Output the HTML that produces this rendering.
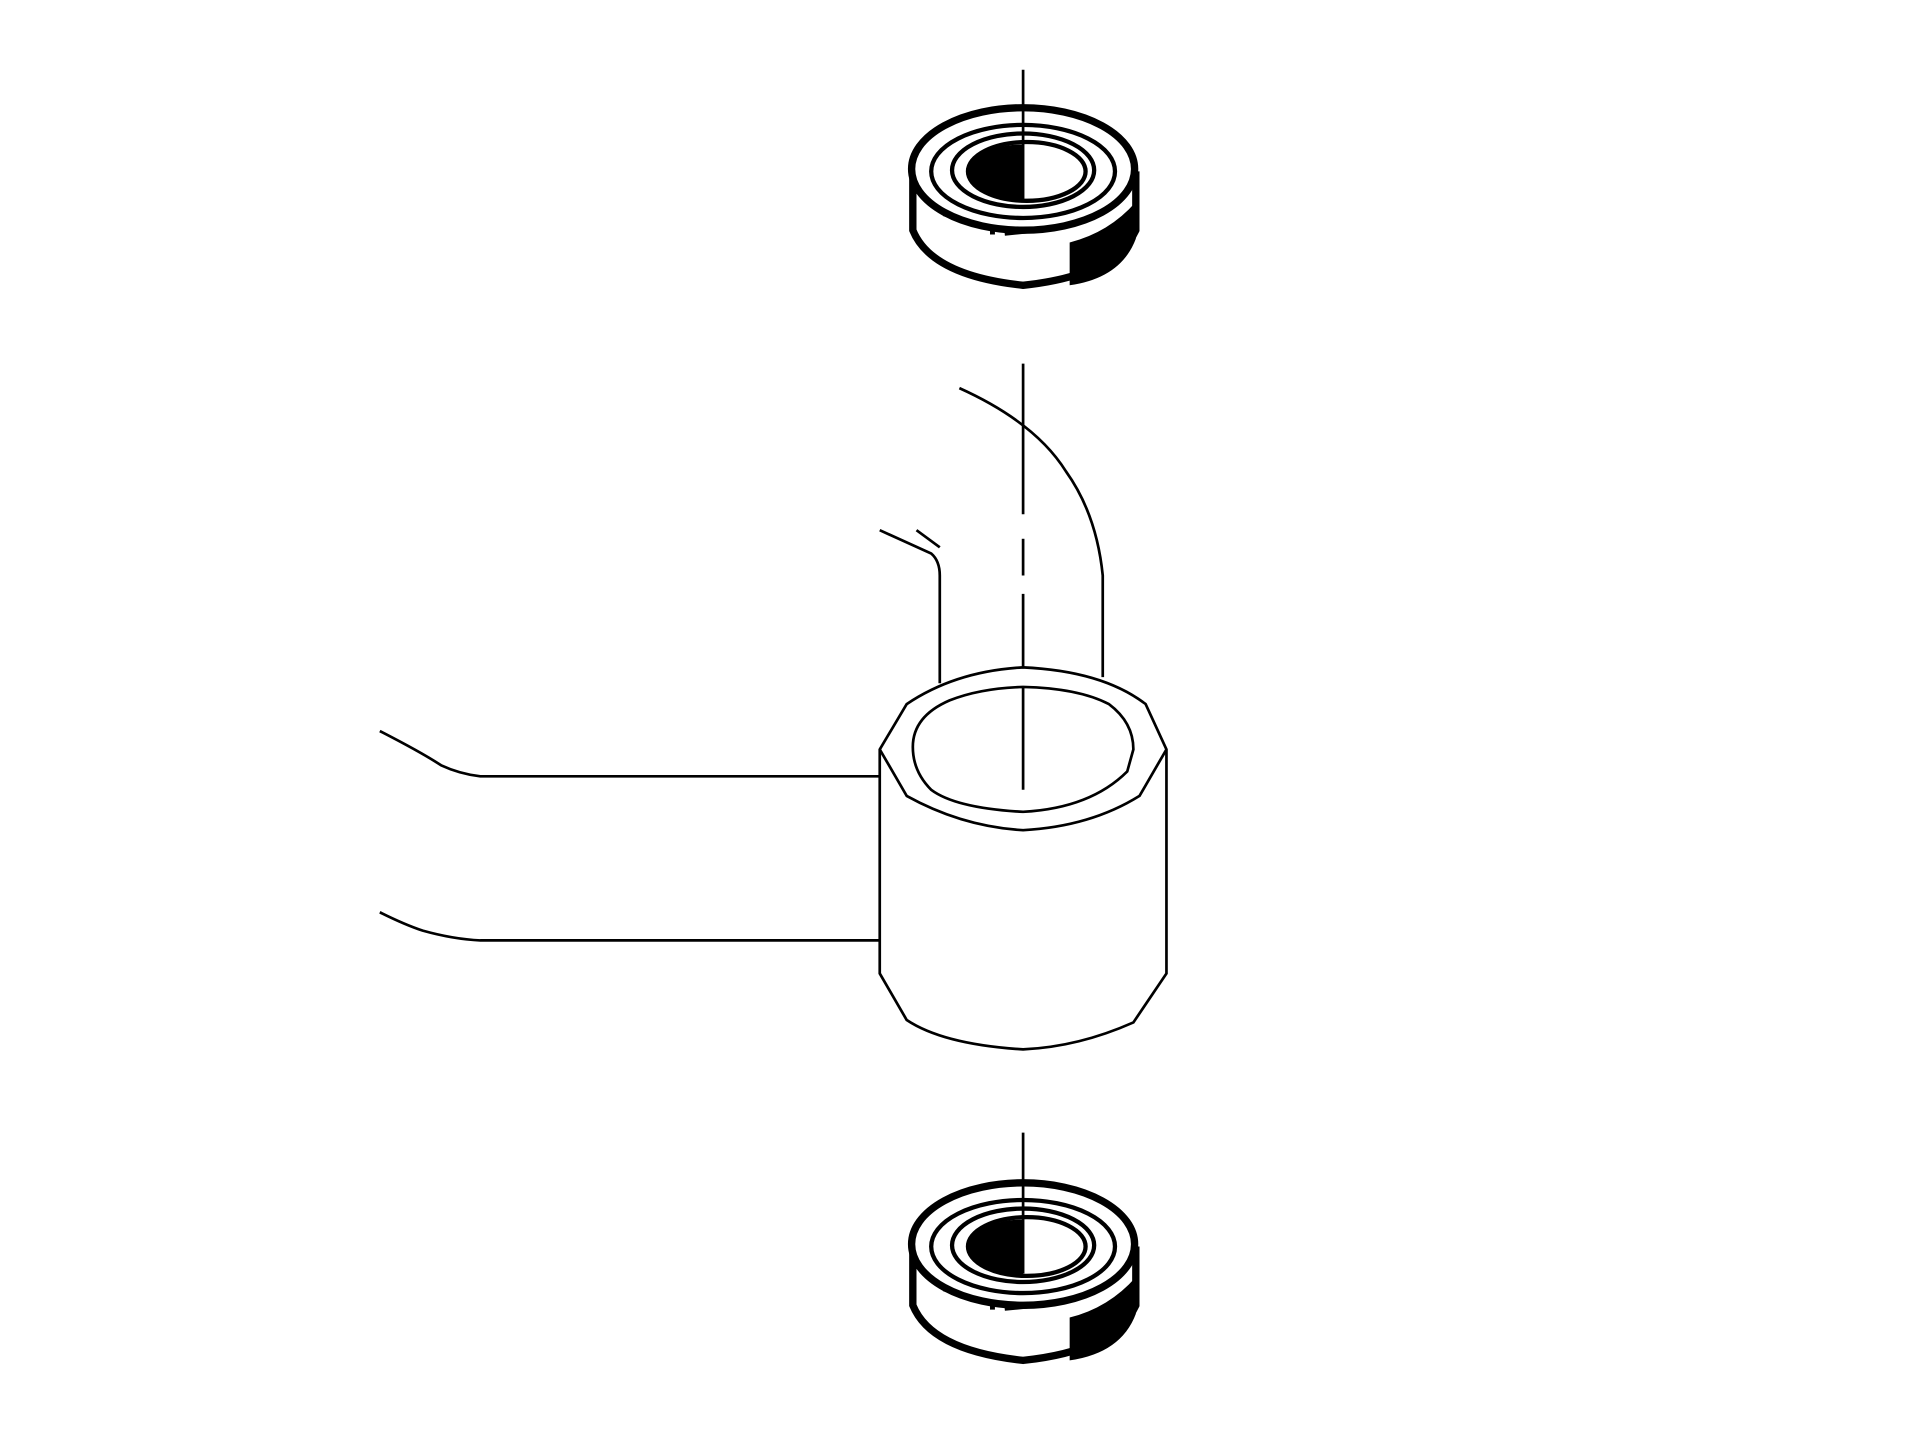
<!DOCTYPE html>
<html><head><style>html,body{margin:0;background:#fff}svg{display:block}</style></head><body>
<svg width="1920" height="1440" viewBox="0 0 1567 1176" preserveAspectRatio="none" xmlns="http://www.w3.org/2000/svg">
<defs>
<g id="brg">
<path d="M745 140 L745 188 Q760 225 835 233 Q910 225 927 188 L927 140" fill="#fff" stroke="#000" stroke-width="6"/>
<path d="M873 198 Q905 190 927 165 L927 195 Q915 227 873 233 Z" fill="#000"/>
<ellipse cx="835" cy="138" rx="91" ry="50" fill="#fff" stroke="#000" stroke-width="6"/>
<ellipse cx="835" cy="140" rx="75" ry="38" fill="none" stroke="#000" stroke-width="3.5"/>
<ellipse cx="835" cy="139" rx="58" ry="30" fill="none" stroke="#000" stroke-width="3.5"/>
<ellipse cx="838" cy="140" rx="48" ry="24" fill="#fff" stroke="#000" stroke-width="3.5"/>
<path d="M835 118 A45 22 0 0 0 835 163 Z" fill="#000"/>
<path d="M770 175 L800 185 M808 190 L812 190 M820 191 L860 187" stroke="#000" stroke-width="3"/>
</g>
</defs>
<use href="#brg"/>
<use href="#brg" transform="translate(0,878)"/>
<g stroke="#000" stroke-width="2.2" fill="none">
<line x1="835" y1="57" x2="835" y2="165"/>
<line x1="835" y1="925" x2="835" y2="1040"/>
<line x1="835" y1="297" x2="835" y2="420"/>
<line x1="835" y1="440" x2="835" y2="470"/>
<line x1="835" y1="485" x2="835" y2="645"/>
<path d="M718 433 L760 452 Q767 458 767 470 L767 558"/>
<path d="M748 433 L767 447"/>
<path d="M783 317 Q845 345 870 385 Q895 420 900 470 L900 553"/>
<path d="M310 597 Q345 615 360 625 Q375 632 392 634 L718 634"/>
<path d="M310 745 Q330 755 345 760 Q370 767 392 768 L718 768"/>
<path d="M718 612 L740 575 Q780 548 835 545 Q900 548 935 575 L952 612 L952 795 L925 835 Q880 855 835 857 Q770 853 740 833 L718 795 Z" fill="#fff"/>
<path d="M718 612 L740 650 Q785 675 835 678 Q890 675 930 650 L952 612"/>
<path d="M745 610 Q745 585 775 572 Q800 562 835 561 Q880 562 905 575 Q925 590 925 612 L920 630 Q890 660 835 663 Q780 660 760 645 Q745 630 745 610 Z"/>
</g>
<line x1="835" y1="561" x2="835" y2="645" stroke="#000" stroke-width="2.2"/>
</svg>
</body></html>
